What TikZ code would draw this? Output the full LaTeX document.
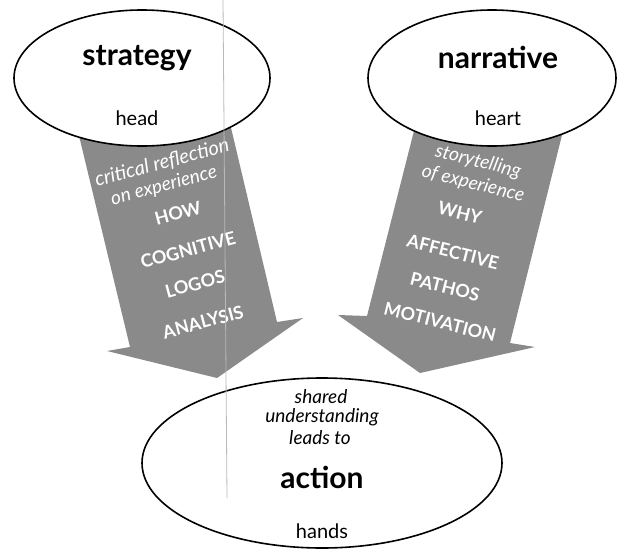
\documentclass[tikz,border=0pt]{standalone}
\usepackage{fontspec}
\setmainfont{Lato}
\usetikzlibrary{shapes.geometric}

\definecolor{shaftgray}{RGB}{138,138,138}
\definecolor{guttergray}{RGB}{185,185,185}

\begin{document}
\begin{tikzpicture}[x = 1pt, y = -1pt,
  bubble/.style = {ellipse, draw, line width = 1.6pt, fill = white,
    inner sep = 0pt},
  title/.style = {font = \bfseries\fontsize{30}{30}\selectfont},
  organ/.style = {font = \fontsize{20}{20}\selectfont},
  musing/.style = {font = \itshape\fontsize{19}{19}\selectfont},
  keyword/.style = {font = \bfseries\fontsize{18}{18}\selectfont},
  headside/.style = {white, rotate = 15, inner sep = 1pt},
  heartside/.style = {white, rotate = -14, inner sep = 1pt}]
  \useasboundingbox (0, 0) rectangle (617, 551);

  % the two big arrows
  \fill[shaftgray] (74, 115) -- (130, 347) -- (107, 351) -- (217, 378)
  -- (303, 318) -- (277, 322) -- (228, 115) -- cycle;
  \fill[shaftgray] (418, 115) -- (367, 316) -- (338, 315) -- (420, 373)
  -- (535, 347) -- (510, 343) -- (567, 115) -- cycle;

  \node[musing, headside, font = \itshape\fontsize{20}{20}\selectfont]
  (crit) at (162, 163) {critical reflection};
  \node[musing, headside] (onexp) at (164, 186) {on experience};
  \node[keyword, headside] (how) at (178, 213) {HOW};
  \node[keyword, headside] (cogn) at (188, 250) {COGNITIVE};
  \node[keyword, headside] (logos) at (195, 284) {LOGOS};
  \node[keyword, headside] (anal) at (203, 322) {ANALYSIS};

  \node[musing, heartside] (story) at (478, 162) {storytelling};
  \node[musing, heartside] (ofexp) at (473, 184) {of experience};
  \node[keyword, heartside] (why) at (460, 213) {WHY};
  \node[keyword, heartside] (affect) at (453, 252) {AFFECTIVE};
  \node[keyword, heartside] (pathos) at (445, 287) {PATHOS};
  \node[keyword, heartside] (motiv) at (440, 322) {MOTIVATION};

  % the three bubbles
  \node[bubble, minimum width = 256pt, minimum height = 136pt] (strategy)
  at (142, 78) {};
  \node[bubble, minimum width = 248pt, minimum height = 136pt] (narrative)
  at (492, 78) {};
  \node[bubble, minimum width = 360pt, minimum height = 170pt] (action)
  at (322, 463) {};

  \node[title] (stratname) at (137, 58) {strategy};
  \node[organ] (head) at (137, 118) {head};
  \node[title] (narrname) at (498, 57) {narrative};
  \node[organ] (heart) at (498, 118) {heart};

  \node[musing] (shared) at (321, 397) {shared};
  \node[musing] (underst) at (322, 417) {understanding};
  \node[musing] (leads) at (320, 438) {leads to};
  \node[title] (actname) at (322, 477) {action};
  \node[organ] (hands) at (322, 531) {hands};

  \draw[guttergray, line width = .8pt] (223, 0) -- (227, 498);
\end{tikzpicture}
\end{document}
